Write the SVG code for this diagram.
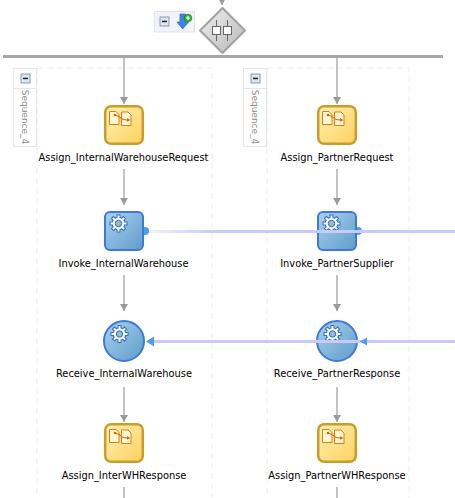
<svg xmlns="http://www.w3.org/2000/svg" width="455" height="498" viewBox="0 0 455 498">
<style>
text{font-family:"DejaVu Sans",sans-serif;font-size:9.85px;fill:#000;text-anchor:middle}
.lane{fill:none;stroke:#ececec;stroke-width:1;stroke-dasharray:6 4}
.conn{fill:none;stroke:#a3a3a3;stroke-width:1.3}
.head{fill:#9a9a9a}
.hdr{fill:#fff;stroke:#e6e6e6;stroke-width:1}
text.seq{font-size:9px;fill:#8c8c8c}
.assign{fill:url(#ga);stroke:#c99c2c;stroke-width:2.5}
.blue{fill:url(#gb);stroke:#3f78d6;stroke-width:2}
.doc{fill:#fff8d8;stroke:#e07b10;stroke-width:1}
.map{fill:none;stroke:#d9600c;stroke-width:1}
.ln{stroke:#c9c9fb;stroke-width:3;fill:none}
.pt{fill:#4d9cf0}
</style>
<defs>
<linearGradient id="ga" x1="0" y1="0" x2="1" y2="1"><stop offset="0" stop-color="#fff0b4"/><stop offset="1" stop-color="#fdd25e"/></linearGradient>
<linearGradient id="gb" x1="0" y1="0" x2="1" y2="1"><stop offset="0" stop-color="#a9d2ec"/><stop offset="1" stop-color="#5f9ccb"/></linearGradient>
<linearGradient id="gd" x1="0" y1="0" x2="1" y2="1"><stop offset="0" stop-color="#f0f0f0"/><stop offset="1" stop-color="#b8b8b8"/></linearGradient>
<linearGradient id="gl" gradientUnits="userSpaceOnUse" x1="149" y1="0" x2="215" y2="0"><stop offset="0" stop-color="#f0f0ff"/><stop offset="1" stop-color="#c9c9fb"/></linearGradient>
<marker id="arr" markerWidth="10" markerHeight="8" refX="7" refY="4" orient="auto" markerUnits="userSpaceOnUse"><path d="M0 0L7 4L0 8Z" class="head"/></marker>
<g id="assignIcon">
<path class="doc" d="M-14.500-8.500h6.500l3 3v10h-9.500z"/><path class="doc" d="M-2.500-8h6.500l3 3v10.500h-9.500z"/>
<path class="map" d="M-9-5L-5-3.500L-1-0.500L3 0L5 0"/><circle cx="-9" cy="-5" r="1.300" fill="#d9600c"/><path d="M3-1.800L6.500 0L3 1.800Z" fill="#d9600c"/>
</g>
<g id="gearIcon">
<g fill="#2f68c8">
<rect x="-1.900" y="-9" width="3.800" height="18"/><rect x="-1.900" y="-9" width="3.800" height="18" transform="rotate(45)"/>
<rect x="-1.900" y="-9" width="3.800" height="18" transform="rotate(90)"/><rect x="-1.900" y="-9" width="3.800" height="18" transform="rotate(135)"/>
</g>
<circle r="6.800" fill="#2f68c8"/>
<g fill="#fff">
<rect x="-1" y="-8" width="2" height="16"/><rect x="-1" y="-8" width="2" height="16" transform="rotate(45)"/>
<rect x="-1" y="-8" width="2" height="16" transform="rotate(90)"/><rect x="-1" y="-8" width="2" height="16" transform="rotate(135)"/>
</g>
<circle r="5.800" fill="#fff"/>
<circle r="3.200" fill="#8fbce0" stroke="#2f68c8" stroke-width="1"/>
</g>
<g id="hdrMinus">
<rect x="-4.500" y="-4.500" width="9" height="9" fill="#dfe6ee" stroke="#7f9db9"/><rect x="-2.500" y="-0.800" width="5" height="1.500" fill="#222"/>
</g>
</defs>

<g id="lanes">
<path class="lane" d="M37 68V498M37 68H212V498"/>
<path class="lane" d="M267 68V498M267 68H409V498"/>
</g>

<g id="connectors">
<path class="conn" d="M222 0V5" marker-end="url(#arr)"/>
<path class="conn" d="M124 58V104" marker-end="url(#arr)"/>
<path class="conn" d="M124 169V205" marker-end="url(#arr)"/>
<path class="conn" d="M124 275V311" marker-end="url(#arr)"/>
<path class="conn" d="M124 387V422" marker-end="url(#arr)"/>
<path class="conn" d="M124 487V498"/>
<path class="conn" d="M337 58V104" marker-end="url(#arr)"/>
<path class="conn" d="M337 169V205" marker-end="url(#arr)"/>
<path class="conn" d="M337 275V311" marker-end="url(#arr)"/>
<path class="conn" d="M337 387V422" marker-end="url(#arr)"/>
<path class="conn" d="M337 487V498"/>
</g>

<g id="flow">
<rect id="flow-split-bar" x="3" y="55" width="440" height="3" fill="#a6a6a6"/>
<g id="flow-toggle">
<rect x="154.500" y="11.500" width="40" height="20.500" fill="#f2f2fa" stroke="#e2e2ee"/>
<use href="#hdrMinus" x="164.500" y="21.500"/>
<path d="M180 14h5.500v8h3l-5.800 7-5.800-7h3z" fill="#3a86e0" stroke="#1b5fb5" stroke-width="0.600"/>
<circle cx="188" cy="18" r="3.800" fill="#34b534" stroke="#0d6b0d" stroke-width="0.600"/>
<path d="M186 18h4M188 16v4" stroke="#fff" stroke-width="1.200"/>
</g>
<g id="flow-diamond">
<path d="M222.500 8L245 30.500L222.500 53L200 30.500Z" fill="url(#gd)" stroke="#a0a0a0" stroke-width="2" stroke-linejoin="round"/>
<path d="M216.500 20V41M227.500 20V41" stroke="#666" stroke-width="1"/>
<rect x="212.500" y="26.500" width="8" height="8" fill="#fff" stroke="#666"/>
<rect x="223.500" y="26.500" width="8" height="8" fill="#fff" stroke="#666"/>
</g>
</g>

<g id="sequence-left">
<rect class="hdr" x="13.500" y="68.500" width="23" height="78"/>
<path d="M13.500 88.500H36.500" stroke="#e6e6e6"/>
<use href="#hdrMinus" x="25.500" y="78.500"/>
<text class="seq" transform="translate(22 117) rotate(90)" y="0">Sequence_4</text>
</g>
<g id="sequence-right">
<rect class="hdr" x="243.500" y="68.500" width="23" height="78"/>
<path d="M243.500 88.500H266.500" stroke="#e6e6e6"/>
<use href="#hdrMinus" x="255.500" y="78.500"/>
<text class="seq" transform="translate(252 117) rotate(90)" y="0">Sequence_4</text>
</g>

<g id="Assign_InternalWarehouseRequest">
<rect class="assign" x="105.200" y="106.200" width="37.600" height="37.600" rx="6"/>
<use href="#assignIcon" x="124" y="120"/>
<text x="123.500" y="161">Assign_InternalWarehouseRequest</text>
</g>
<g id="Assign_PartnerRequest">
<rect class="assign" x="318.200" y="106.200" width="37.600" height="37.600" rx="6"/>
<use href="#assignIcon" x="337" y="120"/>
<text x="337" y="161">Assign_PartnerRequest</text>
</g>

<g id="Invoke_InternalWarehouse">
<circle class="pt" cx="145" cy="231" r="4"/>
<rect class="blue" x="105" y="212" width="38" height="38" rx="5"/>
<use href="#gearIcon" x="118.500" y="223.500"/>
<text x="123.500" y="267">Invoke_InternalWarehouse</text>
</g>
<g id="Invoke_PartnerSupplier">
<circle class="pt" cx="358" cy="231" r="4"/>
<rect class="blue" x="318" y="212" width="38" height="38" rx="5"/>
<use href="#gearIcon" x="331.500" y="223.500"/>
<text x="337" y="267">Invoke_PartnerSupplier</text>
</g>

<g id="Receive_InternalWarehouse">
<circle class="blue" cx="124" cy="341" r="20"/>
<use href="#gearIcon" x="119.500" y="334"/>
<text x="124" y="377">Receive_InternalWarehouse</text>
</g>
<g id="Receive_PartnerResponse">
<circle class="blue" cx="337" cy="341" r="20"/>
<use href="#gearIcon" x="332.500" y="334"/>
<text x="337" y="377">Receive_PartnerResponse</text>
</g>

<g id="Assign_InterWHResponse">
<rect class="assign" x="105.200" y="424.200" width="37.600" height="37.600" rx="6"/>
<use href="#assignIcon" x="124" y="438"/>
<text x="124" y="479">Assign_InterWHResponse</text>
</g>
<g id="Assign_PartnerWHResponse">
<rect class="assign" x="318.200" y="424.200" width="37.600" height="37.600" rx="6"/>
<use href="#assignIcon" x="337" y="438"/>
<text x="337" y="479">Assign_PartnerWHResponse</text>
</g>

<g id="partner-links">
<path d="M149 231.500H455" stroke="url(#gl)" stroke-width="3" fill="none"/>
<path class="ln" d="M154 341.500H455"/>
<path class="pt" d="M146 341.500L154 336.500V346.500Z"/>
<path class="pt" d="M360 341.500L367 337.500V345.500Z"/>
<path class="ln" d="M300 341.500H360"/>
</g>
</svg>
